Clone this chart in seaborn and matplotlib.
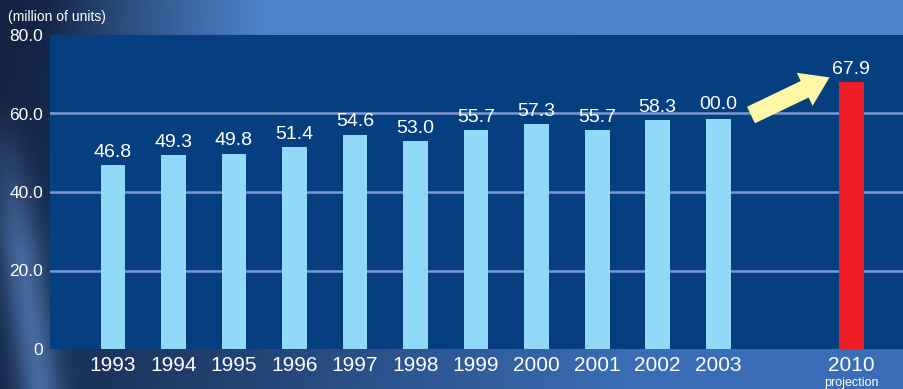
import numpy as np
import pandas as pd
import matplotlib
matplotlib.use("Agg")
import matplotlib.pyplot as plt
import seaborn as sns

# ---- data ----
years = ["1993", "1994", "1995", "1996", "1997", "1998", "1999",
         "2000", "2001", "2002", "2003", "2010"]
values = [46.8, 49.3, 49.8, 51.4, 54.6, 53.0, 55.7, 57.3, 55.7, 58.3, 58.6, 67.9]
value_labels = ["46.8", "49.3", "49.8", "51.4", "54.6", "53.0", "55.7",
                "57.3", "55.7", "58.3", "00.0", "67.9"]
kinds = ["actual"] * 11 + ["projection"]
y_ticks = [0, 20, 40, 60, 80]
y_tick_labels = ["0", "20.0", "40.0", "60.0", "80.0"]

sns.set_theme(style="dark")
plt.rcParams["font.family"] = ["Liberation Sans", "DejaVu Sans"]

# layout positions (2010 set apart from the annual series)
pos = [float(i) for i in range(11)] + [12.2]

df = pd.DataFrame({"pos": pos, "value": values, "kind": kinds, "year": years})

W, H = 904, 389
fig = plt.figure(figsize=(W / 100, H / 100), dpi=100)

# ---- photographic-style blue background ----
bg = fig.add_axes([0, 0, 1, 1], zorder=0)
yy, xx = np.mgrid[0:1:200j, 0:1:450j]
c_dark = np.array([0.07, 0.13, 0.25])
c_mid = np.array([0.23, 0.43, 0.71])
c_light = np.array([0.30, 0.52, 0.80])
t = np.clip(xx * 1.3 + (1 - yy) * 0.1, 0, 1)[..., None]
img = c_dark * (1 - t) + c_mid * t
top = np.clip((yy - 0.82) / 0.1, 0, 1)[..., None] * np.clip((xx - 0.05) * 4, 0, 1)[..., None]
img = img * (1 - top) + c_light * top
# diagonal light streak at lower left
d = np.abs(xx * 4.0 - (0.7 - yy) * 0.25)
fade = np.clip((0.75 - yy) / 0.4, 0, 1)
streak = (np.exp(-(d / 0.10) ** 2) * fade)[..., None]
img = img * (1 - 0.55 * streak) + np.array([0.42, 0.60, 0.86]) * 0.55 * streak
bg.imshow(img, aspect="auto", extent=[0, 1, 0, 1], origin="lower")
bg.set_axis_off()

# ---- main axes ----
ax = fig.add_axes([50 / W, 40 / H, 1 - 50 / W, (349 - 35) / H], zorder=1)
ax.set_facecolor("#053f80")

sns.barplot(data=df, x="pos", y="value", hue="kind", native_scale=True,
            palette={"actual": "#8fd8f8", "projection": "#ee1c25"},
            width=0.41, dodge=False, legend=False, saturation=1, ax=ax,
            linewidth=0, edgecolor="none", zorder=3)

ax.set_ylim(0, 80)
ax.set_xlim(-1.04, 13.07)
ax.set_yticks(y_ticks)
ax.set_yticklabels(y_tick_labels)
ax.set_xticks(pos)
ax.set_xticklabels(years)
ax.tick_params(axis="y", colors="white", labelsize=12.5, length=0, pad=5)
ax.tick_params(axis="x", colors="white", labelsize=15, length=0, pad=5)
for lbl in ax.get_yticklabels():
    lbl.set_color("white")
for lbl in ax.get_xticklabels():
    lbl.set_color("white")
ax.set_xlabel("")
ax.set_ylabel("")
ax.grid(False)
for v in [20, 40, 60]:
    ax.axhline(v, color="#7b9bd0", lw=1.8, zorder=2)
for s in ax.spines.values():
    s.set_visible(False)

# value labels
for p, v, lab in zip(pos, values, value_labels):
    dy = 1.1 if lab != "00.0" else 1.6
    ax.text(p, v + dy, lab, ha="center", va="bottom", color="white",
            fontsize=14, zorder=5)

# projection note & unit label
ax.text(12.2, -0.088, "projection", transform=ax.get_xaxis_transform(),
        ha="center", va="top", color="white", fontsize=9)
fig.text(8 / W, 1 - 17 / H, "(million of units)", color="white",
         fontsize=10, ha="left", va="center")

# arrow toward the projection
ax.annotate("", xy=(11.88, 69.5), xytext=(10.5, 59.3),
            arrowprops=dict(arrowstyle="simple,head_length=0.9,head_width=1.2,tail_width=0.6",
                            color="#fdf7a6", lw=0, mutation_scale=22),
            zorder=6)

fig.savefig("out.png", dpi=100)
